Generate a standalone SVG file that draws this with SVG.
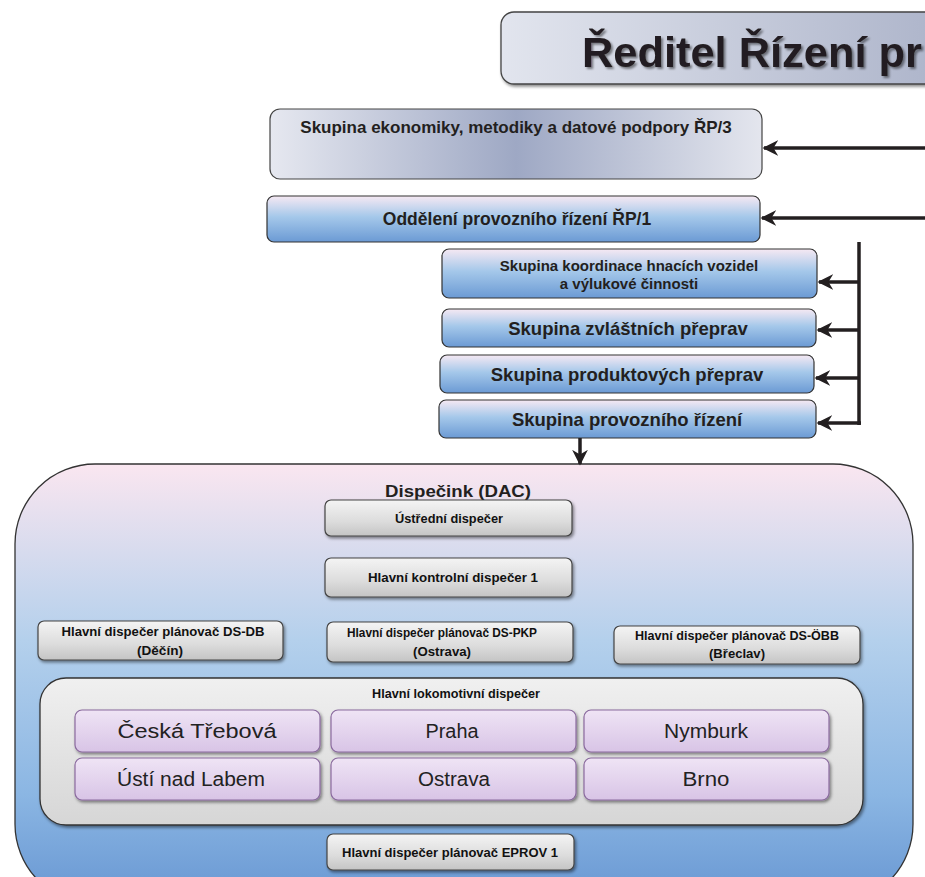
<svg xmlns="http://www.w3.org/2000/svg" width="925" height="877" viewBox="0 0 925 877">
<defs>
<linearGradient id="gTitle" x1="0" y1="0" x2="1" y2="0"><stop offset="0" stop-color="#e2e5ee"/><stop offset="1" stop-color="#a4acc4"/></linearGradient>
<linearGradient id="gEko" x1="0" y1="0" x2="1" y2="0"><stop offset="0" stop-color="#e6e8f0"/><stop offset="0.5" stop-color="#9ea8c4"/><stop offset="1" stop-color="#e4e6ee"/></linearGradient>
<linearGradient id="gBlue" x1="0" y1="0" x2="0" y2="1"><stop offset="0" stop-color="#f6e9f3"/><stop offset="0.45" stop-color="#a5c8ea"/><stop offset="1" stop-color="#6b9ad4"/></linearGradient>
<linearGradient id="gDac" x1="0" y1="0" x2="0" y2="1"><stop offset="0" stop-color="#fae6f0"/><stop offset="0.4" stop-color="#b4d0ec"/><stop offset="0.75" stop-color="#8bb6e3"/><stop offset="1" stop-color="#6796d2"/></linearGradient>
<linearGradient id="gGrey" x1="0" y1="0" x2="0" y2="1"><stop offset="0" stop-color="#f4f4f4"/><stop offset="0.6" stop-color="#dcdcdc"/><stop offset="1" stop-color="#c4c4c4"/></linearGradient>
<linearGradient id="gInner" x1="0" y1="0" x2="0" y2="1"><stop offset="0" stop-color="#f0f0f0"/><stop offset="1" stop-color="#d6d6d6"/></linearGradient>
<linearGradient id="gPurple" x1="0" y1="0" x2="0" y2="1"><stop offset="0" stop-color="#efe4f5"/><stop offset="1" stop-color="#d8c4e6"/></linearGradient>
<filter id="sh" x="-10%" y="-20%" width="125%" height="150%"><feDropShadow dx="1.5" dy="2" stdDeviation="1.5" flood-color="#000" flood-opacity="0.45"/></filter>
<filter id="tsh" x="-5%" y="-20%" width="115%" height="150%"><feDropShadow dx="2" dy="2" stdDeviation="1.2" flood-color="#000" flood-opacity="0.45"/></filter>
<marker id="ah" viewBox="0 0 10 10" refX="9" refY="5" markerWidth="4.5" markerHeight="4.5" orient="auto" markerUnits="strokeWidth"><path d="M0,0 L10,5 L0,10 L3,5 z" fill="#231f20"/></marker>
<style>
.t{font-family:"Liberation Sans",Arial,sans-serif;font-weight:bold;fill:#231f20;text-anchor:middle}
.n{font-family:"Liberation Sans",Arial,sans-serif;font-weight:bold;fill:#111;text-anchor:middle;font-size:13px}
.c{font-family:"Liberation Sans",Arial,sans-serif;fill:#222;text-anchor:middle;font-size:20px}
.blue{fill:url(#gBlue);stroke:#333;stroke-width:1.2}
.grey{fill:url(#gGrey);stroke:#444;stroke-width:1.2;filter:url(#sh)}
.purp{fill:url(#gPurple);stroke:#8a6a9e;stroke-width:1.2;filter:url(#sh)}
.con{stroke:#231f20;stroke-width:3.5;fill:none}
</style>
</defs>

<g id="title">
<rect x="501" y="12" width="520" height="72" rx="13" fill="url(#gTitle)" stroke="#444" stroke-width="1.3" filter="url(#sh)"/>
<text class="t" x="582" y="67" font-size="43.4" style="text-anchor:start" filter="url(#tsh)">Ředitel Řízení pr</text>
</g>

<g id="rp3">
<rect x="270" y="109" width="492" height="70" rx="10" fill="url(#gEko)" stroke="#444" stroke-width="1.2"/>
<text class="t" x="516" y="133" font-size="17">Skupina ekonomiky, metodiky a datové podpory ŘP/3</text>
</g>

<g id="rp1">
<rect x="267" y="196" width="493" height="46" rx="7" class="blue"/>
<text class="t" x="517" y="225" font-size="17.5">Oddělení provozního řízení ŘP/1</text>
</g>

<g id="koord">
<rect x="442" y="249" width="375" height="49" rx="7" class="blue"/>
<text class="t" x="629" y="271" font-size="15">Skupina koordinace hnacích vozidel</text>
<text class="t" x="629" y="289" font-size="15">a výlukové činnosti</text>
</g>
<g id="zvlast">
<rect x="442" y="309" width="374" height="38" rx="7" class="blue"/>
<text class="t" x="628" y="335" font-size="18.5">Skupina zvláštních přeprav</text>
</g>
<g id="produkt">
<rect x="440" y="355" width="374" height="38" rx="7" class="blue"/>
<text class="t" x="627" y="381" font-size="18.5">Skupina produktových přeprav</text>
</g>
<g id="provoz">
<rect x="439" y="400" width="377" height="38" rx="7" class="blue"/>
<text class="t" x="627" y="426" font-size="18.5">Skupina provozního řízení</text>
</g>

<g id="dac">
<rect x="15" y="464" width="898" height="440" rx="80" fill="url(#gDac)" stroke="#333" stroke-width="1.3"/>
<text class="t" x="458" y="497" font-size="17" textLength="146" lengthAdjust="spacingAndGlyphs">Dispečink (DAC)</text>
</g>

<g id="ustredni">
<rect x="325" y="500" width="247" height="36" rx="6" class="grey"/>
<text class="n" x="449" y="523" textLength="108" lengthAdjust="spacingAndGlyphs">Ústřední dispečer</text>
</g>
<g id="kontrolni">
<rect x="325" y="558" width="247" height="39" rx="6" class="grey"/>
<text class="n" x="453" y="582" textLength="170" lengthAdjust="spacingAndGlyphs">Hlavní kontrolní dispečer 1</text>
</g>
<g id="dsdb">
<rect x="38" y="621" width="245" height="39" rx="6" class="grey"/>
<text class="n" x="163" y="636" textLength="203" lengthAdjust="spacingAndGlyphs">Hlavní dispečer plánovač DS-DB</text>
<text class="n" x="160" y="655" textLength="46" lengthAdjust="spacingAndGlyphs">(Děčín)</text>
</g>
<g id="dspkp">
<rect x="327" y="622" width="246" height="40" rx="6" class="grey"/>
<text class="n" x="442" y="637" textLength="190" lengthAdjust="spacingAndGlyphs">Hlavní dispečer plánovač DS-PKP</text>
<text class="n" x="442" y="656" textLength="58" lengthAdjust="spacingAndGlyphs">(Ostrava)</text>
</g>
<g id="dsobb">
<rect x="614" y="626" width="246" height="38" rx="6" class="grey"/>
<text class="n" x="737" y="640" textLength="204" lengthAdjust="spacingAndGlyphs">Hlavní dispečer plánovač DS-ÖBB</text>
<text class="n" x="737" y="658" textLength="56" lengthAdjust="spacingAndGlyphs">(Břeclav)</text>
</g>

<g id="lokomotivni">
<rect x="40" y="678" width="823" height="147" rx="26" fill="url(#gInner)" stroke="#333" stroke-width="1.3" filter="url(#sh)"/>
<text class="n" x="456" y="698" textLength="168" lengthAdjust="spacingAndGlyphs">Hlavní lokomotivní dispečer</text>
</g>
<g id="ceska">
<rect x="75" y="710" width="245" height="42" rx="7" class="purp"/>
<text class="c" x="197" y="738" textLength="159" lengthAdjust="spacingAndGlyphs">Česká Třebová</text>
</g>
<g id="praha">
<rect x="331" y="710" width="245" height="42" rx="7" class="purp"/>
<text class="c" x="452" y="738" textLength="53" lengthAdjust="spacingAndGlyphs">Praha</text>
</g>
<g id="nymburk">
<rect x="584" y="710" width="245" height="42" rx="7" class="purp"/>
<text class="c" x="706" y="738" textLength="84" lengthAdjust="spacingAndGlyphs">Nymburk</text>
</g>
<g id="usti">
<rect x="75" y="758" width="245" height="42" rx="7" class="purp"/>
<text class="c" x="191" y="786" textLength="148" lengthAdjust="spacingAndGlyphs">Ústí nad Labem</text>
</g>
<g id="ostrava">
<rect x="331" y="758" width="245" height="42" rx="7" class="purp"/>
<text class="c" x="454" y="786" textLength="72" lengthAdjust="spacingAndGlyphs">Ostrava</text>
</g>
<g id="brno">
<rect x="584" y="758" width="245" height="42" rx="7" class="purp"/>
<text class="c" x="706" y="786" textLength="47" lengthAdjust="spacingAndGlyphs">Brno</text>
</g>

<g id="eprov">
<rect x="327" y="834" width="247" height="36" rx="6" class="grey"/>
<text class="n" x="450" y="857" textLength="216" lengthAdjust="spacingAndGlyphs">Hlavní dispečer plánovač EPROV 1</text>
</g>

<g id="connectors">
<line class="con" x1="925" y1="148" x2="764" y2="148" marker-end="url(#ah)"/>
<line class="con" x1="925" y1="218" x2="762" y2="218" marker-end="url(#ah)"/>
<polyline class="con" points="859,242 859,425"/>
<line class="con" x1="859" y1="282" x2="819" y2="282" marker-end="url(#ah)"/>
<line class="con" x1="859" y1="330" x2="818" y2="330" marker-end="url(#ah)"/>
<line class="con" x1="859" y1="378" x2="816" y2="378" marker-end="url(#ah)"/>
<line class="con" x1="861" y1="423" x2="818" y2="423" marker-end="url(#ah)"/>
<line class="con" x1="580" y1="438" x2="580" y2="464" marker-end="url(#ah)"/>
</g>
</svg>
